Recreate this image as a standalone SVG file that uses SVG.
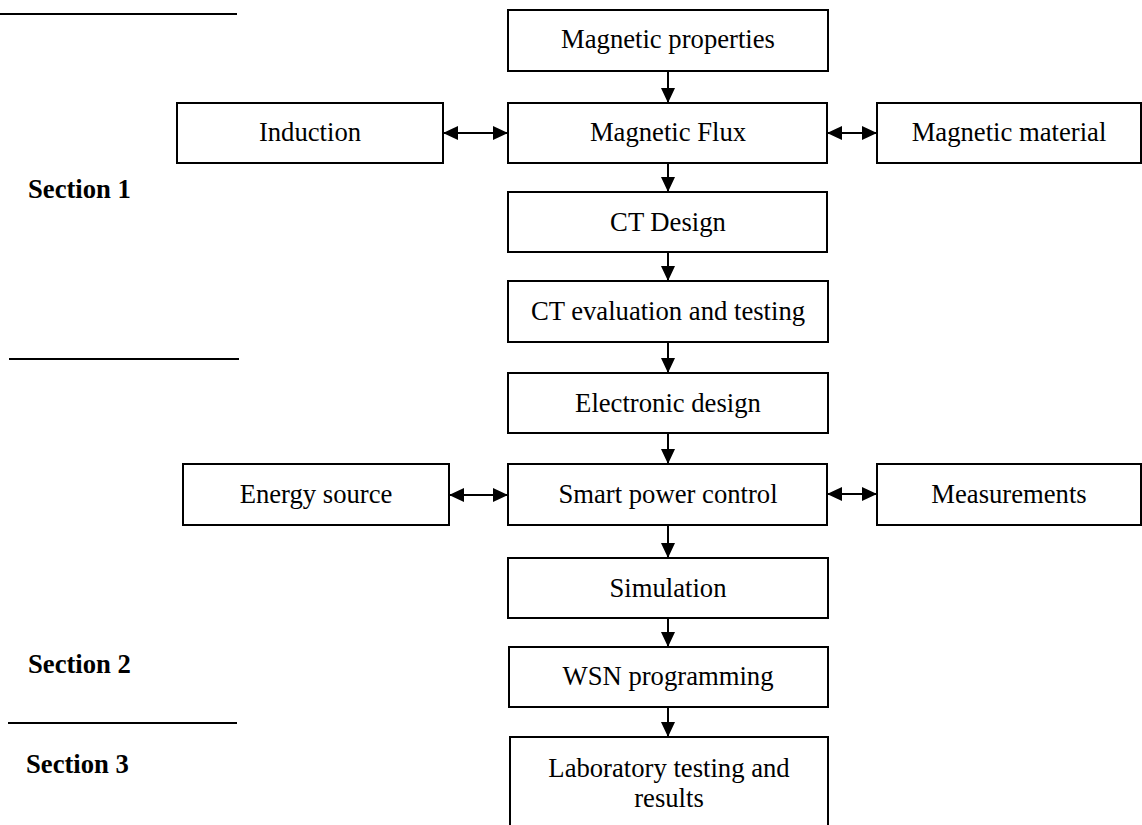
<svg xmlns="http://www.w3.org/2000/svg" width="1142" height="825" viewBox="0 0 1142 825">
<style>
.box{fill:#fff;stroke:#000;stroke-width:2}
.t{font-family:"Liberation Serif","Times New Roman",serif;font-size:26.67px;fill:#000;text-anchor:middle}
.s{font-family:"Liberation Serif","Times New Roman",serif;font-size:26.67px;font-weight:bold;fill:#000}
.c{stroke:#000;stroke-width:2;fill:none}
.sep{stroke:#000;stroke-width:2}
</style>
<defs>
<marker id="ah" markerUnits="userSpaceOnUse" markerWidth="16" markerHeight="14" refX="15" refY="7" orient="auto-start-reverse" viewBox="0 0 16 14">
<path d="M0,0 L15,7 L0,14 z" fill="#000"/>
</marker>
</defs>
<rect width="1142" height="825" fill="#fff"/>
<g id="separators">
<line class="sep" x1="0" y1="14" x2="237" y2="14"/>
<line class="sep" x1="9" y1="359" x2="239" y2="359"/>
<line class="sep" x1="8" y1="723" x2="237" y2="723"/>
</g>
<g id="sections">
<text class="s" x="28" y="198">Section 1</text>
<text class="s" x="28" y="673">Section 2</text>
<text class="s" x="26" y="773">Section 3</text>
</g>
<g id="connectors">
<line class="c" x1="668" y1="71" x2="668" y2="103" marker-end="url(#ah)"/>
<line class="c" x1="668" y1="163" x2="668" y2="192" marker-end="url(#ah)"/>
<line class="c" x1="668" y1="252" x2="668" y2="281" marker-end="url(#ah)"/>
<line class="c" x1="668" y1="342" x2="668" y2="373" marker-end="url(#ah)"/>
<line class="c" x1="668" y1="433" x2="668" y2="464" marker-end="url(#ah)"/>
<line class="c" x1="668" y1="525" x2="668" y2="558" marker-end="url(#ah)"/>
<line class="c" x1="668" y1="618" x2="668" y2="647" marker-end="url(#ah)"/>
<line class="c" x1="668" y1="707" x2="668" y2="737" marker-end="url(#ah)"/>
<line class="c" x1="443" y1="133" x2="508" y2="133" marker-start="url(#ah)" marker-end="url(#ah)"/>
<line class="c" x1="827" y1="133" x2="877" y2="133" marker-start="url(#ah)" marker-end="url(#ah)"/>
<line class="c" x1="449" y1="495" x2="508" y2="495" marker-start="url(#ah)" marker-end="url(#ah)"/>
<line class="c" x1="827" y1="494" x2="877" y2="494" marker-start="url(#ah)" marker-end="url(#ah)"/>
</g>
<g id="magnetic-properties">
<rect class="box" x="508" y="10" width="320" height="61"/>
<text class="t" x="668" y="48">Magnetic properties</text>
</g>
<g id="induction">
<rect class="box" x="177" y="103" width="266" height="60"/>
<text class="t" x="310" y="141">Induction</text>
</g>
<g id="magnetic-flux">
<rect class="box" x="508" y="103" width="319" height="60"/>
<text class="t" x="668" y="141">Magnetic Flux</text>
</g>
<g id="magnetic-material">
<rect class="box" x="877" y="103" width="264" height="60"/>
<text class="t" x="1009" y="141">Magnetic material</text>
</g>
<g id="ct-design">
<rect class="box" x="508" y="192" width="319" height="60"/>
<text class="t" x="668" y="231">CT Design</text>
</g>
<g id="ct-evaluation">
<rect class="box" x="508" y="281" width="320" height="61"/>
<text class="t" x="668" y="320">CT evaluation and testing</text>
</g>
<g id="electronic-design">
<rect class="box" x="508" y="373" width="320" height="60"/>
<text class="t" x="668" y="412">Electronic design</text>
</g>
<g id="energy-source">
<rect class="box" x="183" y="464" width="266" height="61"/>
<text class="t" x="316" y="503">Energy source</text>
</g>
<g id="smart-power-control">
<rect class="box" x="508" y="464" width="319" height="61"/>
<text class="t" x="668" y="503">Smart power control</text>
</g>
<g id="measurements">
<rect class="box" x="877" y="464" width="264" height="61"/>
<text class="t" x="1009" y="503">Measurements</text>
</g>
<g id="simulation">
<rect class="box" x="508" y="558" width="320" height="60"/>
<text class="t" x="668" y="597">Simulation</text>
</g>
<g id="wsn-programming">
<rect class="box" x="509" y="647" width="319" height="60"/>
<text class="t" x="668" y="685">WSN programming</text>
</g>
<g id="laboratory-testing">
<rect class="box" x="510" y="737" width="318" height="100"/>
<text class="t" x="669" y="777">Laboratory testing and</text>
<text class="t" x="669" y="807">results</text>
</g>
</svg>
